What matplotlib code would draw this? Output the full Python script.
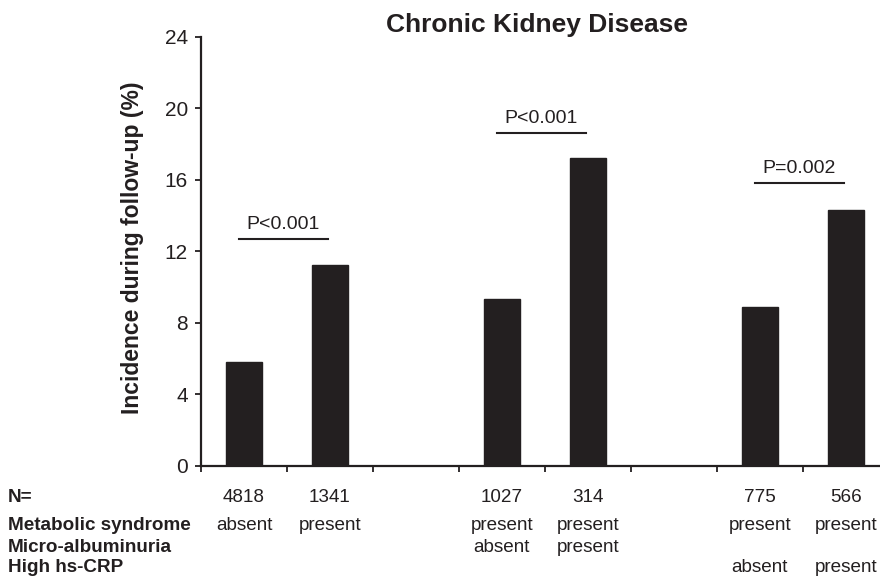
import numpy as np
import matplotlib
matplotlib.use("Agg")
import matplotlib.pyplot as plt

# Data
incidence = [5.8, 11.2, 0, 9.3, 17.2, 0, 8.9, 14.3]
n_vals = ["4818", "1341", "", "1027", "314", "", "775", "566"]
metabolic = ["absent", "present", "", "present", "present", "", "present", "present"]
microalb = ["", "", "", "absent", "present", "", "", ""]
hs_crp = ["", "", "", "", "", "", "absent", "present"]
row_labels = ["N=", "Metabolic syndrome", "Micro-albuminuria", "High hs-CRP"]
p_pairs = [(0, 1), (3, 4), (6, 7)]
p_texts = ["P<0.001", "P<0.001", "P=0.002"]
p_heights = [12.7, 18.6, 15.8]

ink = "#231f20"
plt.rcParams["font.family"] = ["Liberation Sans", "DejaVu Sans"]

fig = plt.figure(figsize=(8.8, 5.82), dpi=100)
ax = fig.add_axes([0.2284, 0.1998, 1 - 0.2284, 0.937 - 0.1998])

x = np.arange(len(incidence))
vals = np.array(incidence, dtype=float)
show = vals > 0
ax.bar(x[show], vals[show], width=0.42, color=ink, edgecolor=ink)

ax.set_xlim(-0.5, 7.4)
ax.set_ylim(0, 24)
ax.set_yticks(np.arange(0, 25, 4))
ax.set_xticks(np.arange(-0.5, 7.5, 1))
ax.set_xticklabels([])
ax.tick_params(axis="y", labelsize=15, colors=ink, length=4.5, width=1.3, direction="out", pad=5)
ax.tick_params(axis="x", length=4.5, width=1.3, direction="out", colors=ink)
for s in ["top", "right"]:
    ax.spines[s].set_visible(False)
for s in ["left", "bottom"]:
    ax.spines[s].set_linewidth(1.6)
    ax.spines[s].set_color(ink)

fig.text(133 / 880, 1 - 248 / 582, "Incidence during follow-up (%)", fontsize=16.5,
         fontweight="bold", color=ink, rotation=90, ha="center", va="center")
fig.text(537 / 880, 1 - 32 / 582, "Chronic Kidney Disease", fontsize=19, fontweight="bold",
         color=ink, ha="center", va="baseline")

# significance brackets
for (a, b), txt, h in zip(p_pairs, p_texts, p_heights):
    ax.plot([a - 0.06, b - 0.02], [h, h], color=ink, lw=1.5, clip_on=False)
    ax.text((a + b) / 2 - 0.04, h + 0.55, txt, ha="center", va="baseline", fontsize=14, color=ink)

# table beneath the axis
rows = [n_vals, metabolic, microalb, hs_crp]
row_y = [497, 526, 547, 567]
for lab, vals_row, yp in zip(row_labels, rows, row_y):
    yf = 1 - yp / 582
    fig.text(8 / 880, yf, lab, fontsize=13.6, fontweight="bold", color=ink, ha="left", va="center")
    for i, v in enumerate(vals_row):
        if v:
            xd = ax.transData.transform((i, 0))[0]
            fig.text(xd / 880, yf, v, fontsize=13.6, color=ink, ha="center", va="center")

fig.savefig("out.png", dpi=100)
